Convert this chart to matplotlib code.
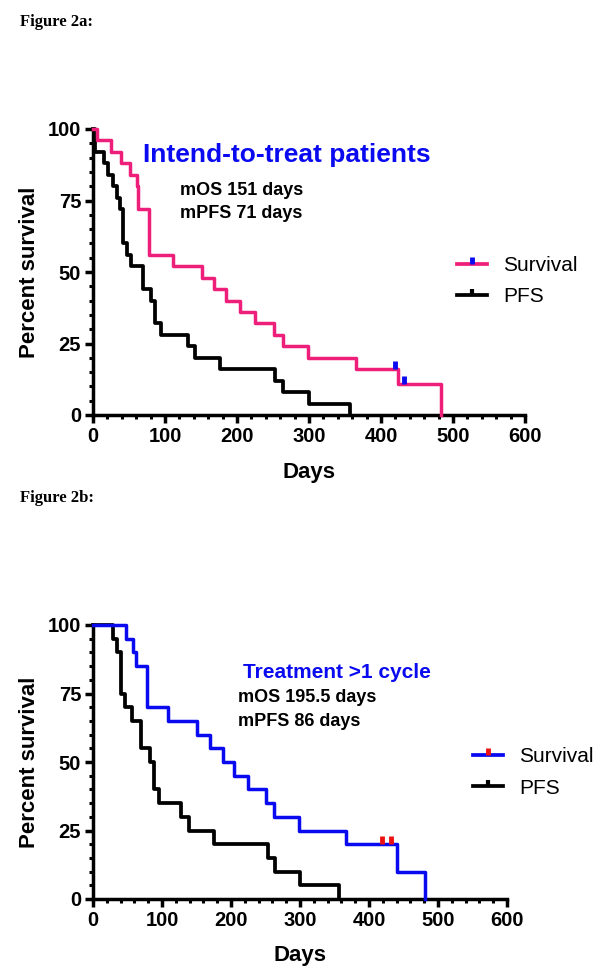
import matplotlib
matplotlib.use("Agg")
import matplotlib.pyplot as plt
from matplotlib.lines import Line2D
from matplotlib.ticker import MultipleLocator

# Kaplan-Meier Daten (Tage, Prozent)
# Abb. 2a: Intend-to-treat
os_a_tage = [0, 5, 25, 39, 52, 61, 63, 78, 111, 152, 168, 185, 204, 225, 251, 264, 299, 365, 424, 483]
os_a_proz = [100, 96, 92, 88, 84, 80, 72, 56, 52, 48, 44, 40, 36, 32, 28, 24, 20, 16, 10.67, 0]
os_a_zensiert_tage = [419, 432]
os_a_zensiert_proz = [16, 10.67]

pfs_a_tage = [0, 3, 15, 21, 28, 33, 38, 42, 47, 53, 70, 81, 86, 94, 132, 141, 176, 253, 264, 300, 357]
pfs_a_proz = [100, 92, 88, 84, 80, 76, 72, 60, 56, 52, 44, 40, 32, 28, 24, 20, 16, 12, 8, 4, 0]

# Abb. 2b: Behandlung >1 Zyklus
os_b_tage = [0, 48, 58, 63, 78, 109, 151, 169, 188, 204, 224, 250, 263, 298, 367, 440, 481]
os_b_proz = [100, 95, 90, 85, 70, 65, 60, 55, 50, 45, 40, 35, 30, 25, 20, 10, 0]
os_b_zensiert_tage = [419, 432]
os_b_zensiert_proz = [20, 20]

pfs_b_tage = [0, 29, 35, 41, 46, 56, 70, 82, 88, 95, 128, 139, 175, 253, 264, 300, 357]
pfs_b_proz = [100, 95, 90, 75, 70, 65, 55, 50, 40, 35, 30, 25, 20, 15, 10, 5, 0]

x_ticks = [0, 100, 200, 300, 400, 500, 600]
y_ticks = [0, 25, 50, 75, 100]

PINK = "#ee1f7a"
BLAU = "#0a0af0"
ROT = "#ee1111"
SANS = "Liberation Sans"
SERIF = "Liberation Serif"

W, H = 602, 974


def px_box(l, t, r, b):
    return [l / W, 1 - b / H, (r - l) / W, (b - t) / H]


def fx(x):
    return x / W


def fy(y):
    return 1 - y / H


def achse_stil(ax):
    ax.set_xlim(0, 600)
    ax.set_ylim(0, 100)
    for s in ["top", "right"]:
        ax.spines[s].set_visible(False)
    for s in ["left", "bottom"]:
        ax.spines[s].set_linewidth(2.5)
    ax.set_xticks(x_ticks)
    ax.set_yticks(y_ticks)
    ax.xaxis.set_minor_locator(MultipleLocator(20))
    ax.yaxis.set_minor_locator(MultipleLocator(5))
    ax.tick_params(which="major", direction="out", length=5.5, width=2.5, pad=3)
    ax.tick_params(which="minor", direction="out", length=3, width=2.2)
    for lab in ax.get_xticklabels() + ax.get_yticklabels():
        lab.set_fontfamily(SANS)
        lab.set_fontweight("bold")
        lab.set_fontsize(14.5)


def km_kurven(ax, os_t, os_p, pfs_t, pfs_p, cz_t, cz_p, farbe, farbe_zens):
    ax.plot(pfs_t, pfs_p, drawstyle="steps-post", color="black", lw=2.7,
            clip_on=False, zorder=3)
    ax.plot(os_t, os_p, drawstyle="steps-post", color=farbe, lw=2.5,
            clip_on=False, zorder=4)
    ax.plot(cz_t, cz_p, linestyle="none", marker=2, markersize=6, mew=3.5,
            color=farbe_zens, zorder=5)


def legende(ax, farbe, farbe_zens, links, oben):
    h_os = (Line2D([], [], color=farbe, lw=2.7),
            Line2D([], [], linestyle="none", marker=2, markersize=5, mew=3.5, color=farbe_zens))
    h_pfs = (Line2D([], [], color="black", lw=2.7),
             Line2D([], [], linestyle="none", marker=2, markersize=4.5, mew=3, color="black"))
    ax.legend([h_os, h_pfs], ["Survival", "PFS"], loc="upper left",
              bbox_to_anchor=(fx(links), fy(oben)), bbox_transform=ax.figure.transFigure,
              frameon=False, borderpad=0, borderaxespad=0, handlelength=1.45,
              handletextpad=0.75, labelspacing=0.6,
              prop={"family": SANS, "size": 15})


fig = plt.figure(figsize=(W / 100, H / 100), dpi=100)

# Abbildung 2a
ax_a = fig.add_axes(px_box(93, 129, 525, 415))
km_kurven(ax_a, os_a_tage, os_a_proz, pfs_a_tage, pfs_a_proz,
          os_a_zensiert_tage, os_a_zensiert_proz, PINK, BLAU)
achse_stil(ax_a)
legende(ax_a, PINK, BLAU, 457, 256)

fig.text(fx(20), fy(22), "Figure 2a:", family=SERIF, weight="bold", size=12, va="center")
fig.text(fx(143), fy(155), "Intend-to-treat patients", family=SANS, weight="bold",
         size=19, color=BLAU, va="center")
fig.text(fx(180), fy(191), "mOS 151 days", family=SANS, weight="bold", size=13, va="center")
fig.text(fx(180), fy(214), "mPFS 71 days", family=SANS, weight="bold", size=13, va="center")
fig.text(fx(30), fy(272), "Percent survival", family=SANS, weight="bold", size=16,
         rotation=90, ha="center", va="center")
fig.text(fx(309), fy(472), "Days", family=SANS, weight="bold", size=16, ha="center", va="center")

# Abbildung 2b
ax_b = fig.add_axes(px_box(93, 625, 507, 899))
km_kurven(ax_b, os_b_tage, os_b_proz, pfs_b_tage, pfs_b_proz,
          os_b_zensiert_tage, os_b_zensiert_proz, BLAU, ROT)
achse_stil(ax_b)
legende(ax_b, BLAU, ROT, 473, 747)

fig.text(fx(20), fy(498), "Figure 2b:", family=SERIF, weight="bold", size=12, va="center")
fig.text(fx(243), fy(672), "Treatment >1 cycle", family=SANS, weight="bold",
         size=15, color=BLAU, va="center")
fig.text(fx(238), fy(698), "mOS 195.5 days", family=SANS, weight="bold", size=13, va="center")
fig.text(fx(238), fy(721), "mPFS 86 days", family=SANS, weight="bold", size=13, va="center")
fig.text(fx(30), fy(762), "Percent survival", family=SANS, weight="bold", size=16,
         rotation=90, ha="center", va="center")
fig.text(fx(300), fy(955), "Days", family=SANS, weight="bold", size=16, ha="center", va="center")

fig.savefig("out.png", dpi=100)
